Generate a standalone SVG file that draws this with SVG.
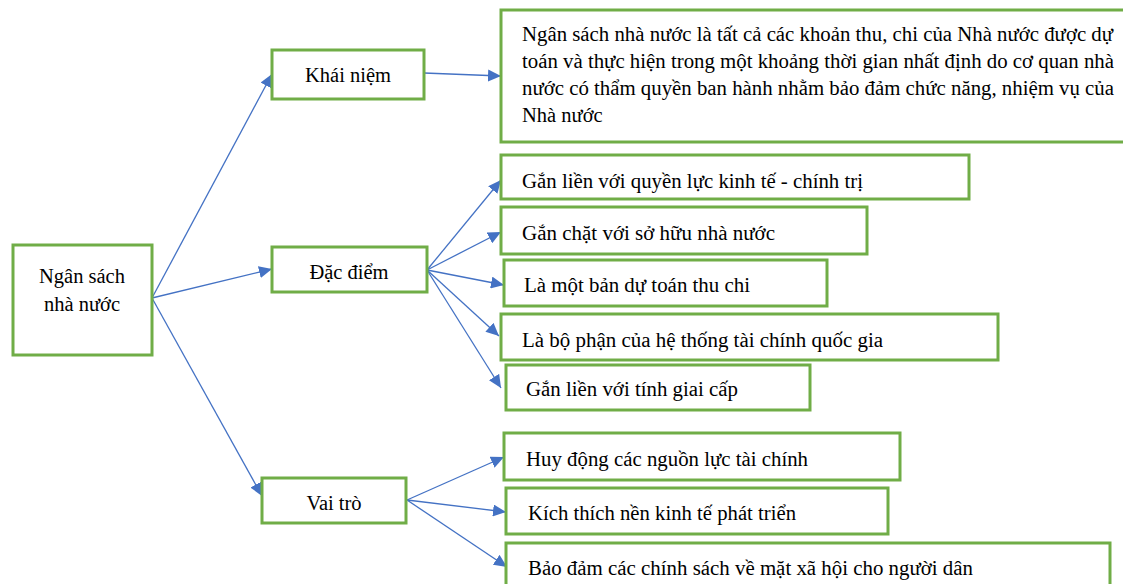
<svg xmlns="http://www.w3.org/2000/svg" width="1123" height="584" viewBox="0 0 1123 584" font-family="Liberation Serif, Times New Roman, serif">
<style>
.box{fill:#fff;stroke:#70AD47;stroke-width:3}
.t{font-family:"Liberation Serif", serif;font-size:20.5px;fill:#000}
.c{text-anchor:middle}
.ln{stroke:#4472C4;stroke-width:1.3;fill:none;marker-end:url(#ah)}
</style>
<defs>
<marker id="ah" markerUnits="userSpaceOnUse" markerWidth="14" markerHeight="12" refX="13" refY="6" orient="auto">
<path d="M0,0 L13,6 L0,12 z" fill="#4472C4"/>
</marker>
<clipPath id="clip4"><rect x="502" y="314" width="494" height="41"/></clipPath>
</defs>
<rect width="1123" height="584" fill="#fff"/>
<g id="connectors">
<line class="ln" x1="152" y1="298" x2="272" y2="74"/>
<line class="ln" x1="152" y1="298" x2="272" y2="269"/>
<line class="ln" x1="152" y1="298" x2="262" y2="496"/>
<line class="ln" x1="424" y1="73" x2="501" y2="76"/>
<line class="ln" x1="427" y1="270" x2="501" y2="180"/>
<line class="ln" x1="427" y1="270" x2="501" y2="232"/>
<line class="ln" x1="427" y1="270" x2="504" y2="285"/>
<line class="ln" x1="427" y1="270" x2="499" y2="336"/>
<line class="ln" x1="427" y1="270" x2="501" y2="388"/>
<line class="ln" x1="407" y1="500" x2="504" y2="457"/>
<line class="ln" x1="407" y1="500" x2="506" y2="512"/>
<line class="ln" x1="407" y1="500" x2="507" y2="567"/>
</g>
<g id="root">
<rect class="box" x="13" y="245" width="139" height="110"/>
<text class="t c" x="82" y="283">Ngân sách</text>
<text class="t c" x="82" y="311">nhà nước</text>
</g>
<g id="khainiem">
<rect class="box" x="272" y="50" width="152" height="49"/>
<text class="t c" x="348" y="82">Khái niệm</text>
</g>
<g id="dinhnghia">
<rect class="box" x="501" y="10" width="630" height="132"/>
<text class="t" x="522" y="41" textLength="591" lengthAdjust="spacingAndGlyphs">Ngân sách nhà nước là tất cả các khoản thu, chi của Nhà nước được dự</text>
<text class="t" x="522" y="68" textLength="592" lengthAdjust="spacingAndGlyphs">toán và thực hiện trong một khoảng thời gian nhất định do cơ quan nhà</text>
<text class="t" x="522" y="95" textLength="592" lengthAdjust="spacingAndGlyphs">nước có thẩm quyền ban hành nhằm bảo đảm chức năng, nhiệm vụ của</text>
<text class="t" x="522" y="122">Nhà nước</text>
</g>
<g id="dacdiem">
<rect class="box" x="272" y="247" width="155" height="45"/>
<text class="t c" x="349" y="279">Đặc điểm</text>
</g>
<g id="dd1">
<rect class="box" x="501" y="155" width="468" height="44"/>
<text class="t" x="522" y="188" textLength="341" lengthAdjust="spacingAndGlyphs">Gắn liền với quyền lực kinh tế - chính trị</text>
</g>
<g id="dd2">
<rect class="box" x="501" y="207" width="366" height="47"/>
<text class="t" x="522" y="240" textLength="253" lengthAdjust="spacingAndGlyphs">Gắn chặt với sở hữu nhà nước</text>
</g>
<g id="dd3">
<rect class="box" x="504" y="260" width="323" height="46"/>
<text class="t" x="524" y="292" textLength="226" lengthAdjust="spacingAndGlyphs">Là một bản dự toán thu chi</text>
</g>
<g id="dd4">
<rect class="box" x="501" y="314" width="497" height="46"/>
<text class="t" x="522" y="347" textLength="361" lengthAdjust="spacingAndGlyphs" clip-path="url(#clip4)">Là bộ phận của hệ thống tài chính quốc gia</text>
</g>
<g id="dd5">
<rect class="box" x="506" y="365" width="304" height="45"/>
<text class="t" x="526" y="396" textLength="212" lengthAdjust="spacingAndGlyphs">Gắn liền với tính giai cấp</text>
</g>
<g id="vaitro">
<rect class="box" x="262" y="478" width="144" height="45"/>
<text class="t c" x="334" y="510">Vai trò</text>
</g>
<g id="vt1">
<rect class="box" x="504" y="433" width="396" height="47"/>
<text class="t" x="526" y="466" textLength="282" lengthAdjust="spacingAndGlyphs">Huy động các nguồn lực tài chính</text>
</g>
<g id="vt2">
<rect class="box" x="506" y="488" width="382" height="46"/>
<text class="t" x="528" y="520" textLength="268" lengthAdjust="spacingAndGlyphs">Kích thích nền kinh tế phát triển</text>
</g>
<g id="vt3">
<rect class="box" x="506" y="543" width="604" height="60"/>
<text class="t" x="528" y="575" textLength="445" lengthAdjust="spacingAndGlyphs">Bảo đảm các chính sách về mặt xã hội cho người dân</text>
</g>
</svg>
